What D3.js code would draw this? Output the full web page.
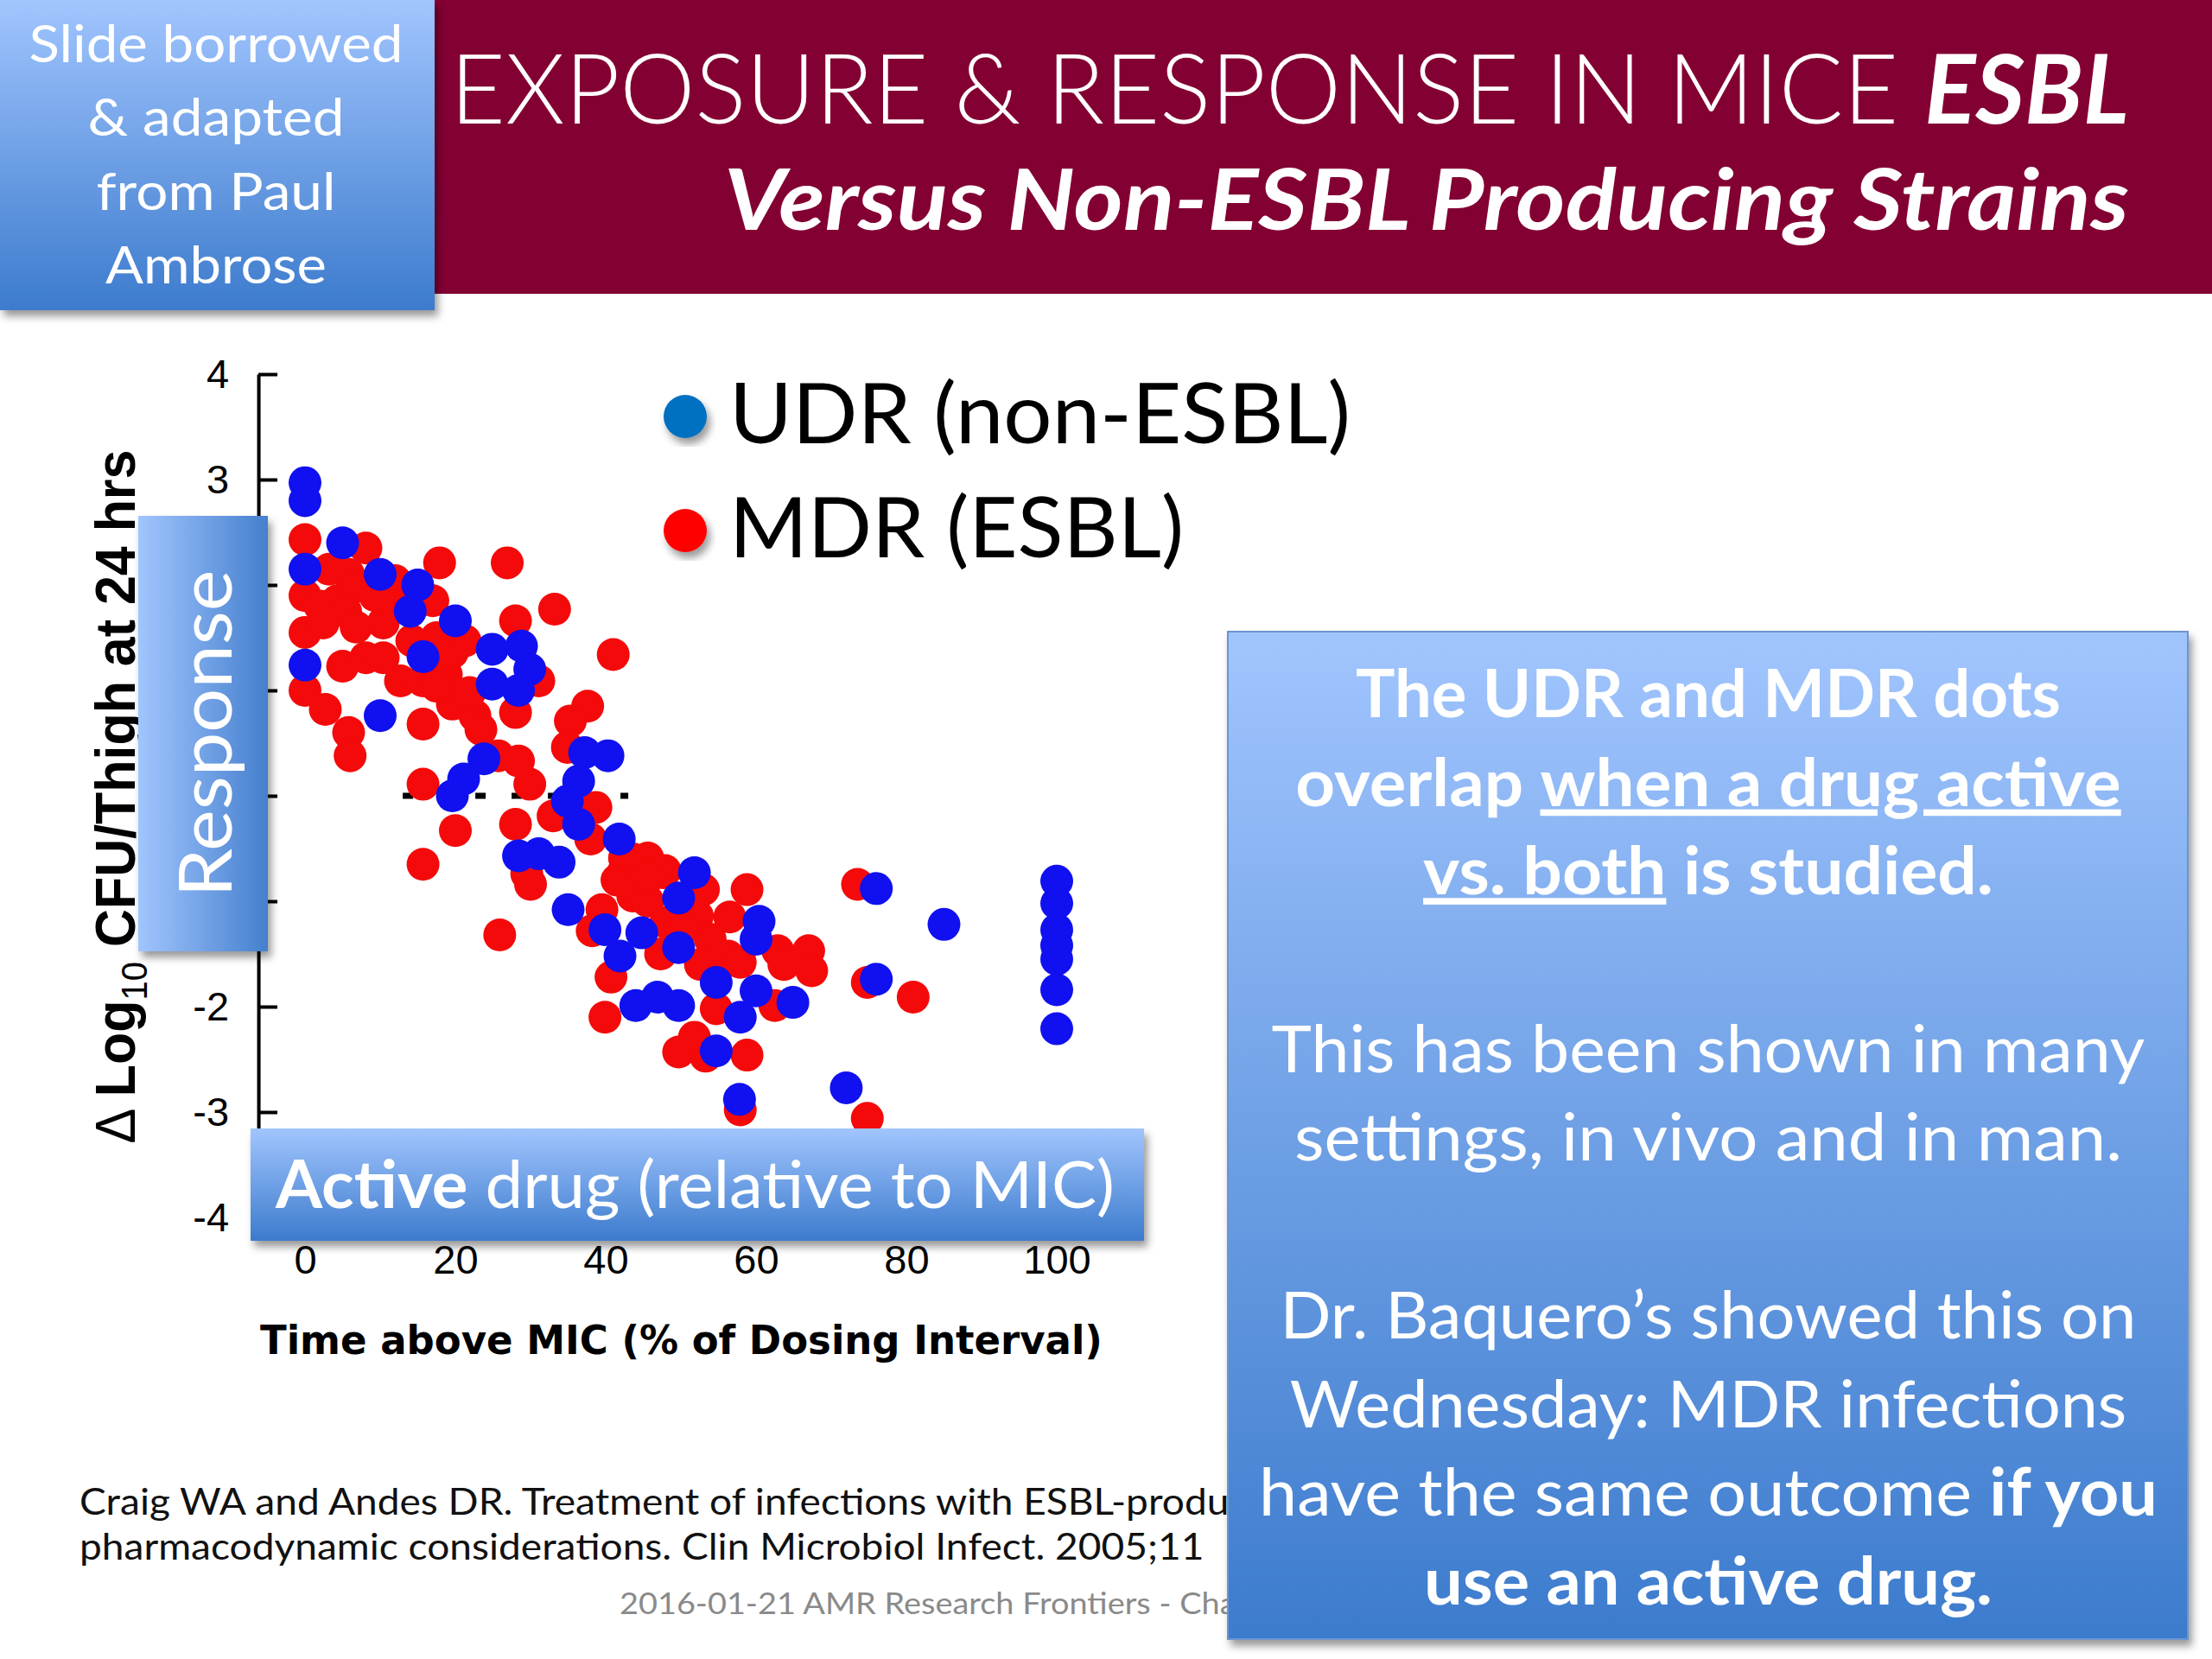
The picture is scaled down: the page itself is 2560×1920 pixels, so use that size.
<!DOCTYPE html>
<html>
<head>
<meta charset="utf-8">
<script src="https://cdn.jsdelivr.net/npm/d3@7"></script>
<style>
  body { margin: 0; background: #fff; }
  svg { display: block; }
</style>
</head>
<body>
<div id="slide"></div>
<script>
// ---- values ----
// [time above MIC %, change in log10 CFU/thigh at 24 h]
const udrPoints = [
  [0, 2.97], [0, 2.8], [5, 2.4], [0, 2.15], [10, 2.1], [15, 2.0], [14, 1.75], [20, 1.66],
  [0, 1.24], [15.7, 1.32], [24.9, 1.39], [28.8, 1.42], [29.9, 1.2], [24.9, 1.06], [28.4, 1.0],
  [10, 0.76], [23.8, 0.35], [21.1, 0.16], [19.6, 0.0], [37.2, 0.41], [40.3, 0.38], [36.4, 0.14],
  [34.9, -0.05], [36.4, -0.27], [41.8, -0.41], [28.4, -0.57], [31.1, -0.55], [33.8, -0.63],
  [35, -1.08], [39.9, -1.27], [41.9, -1.52], [44.8, -1.3], [49.7, -1.44], [51.8, -0.73],
  [49.7, -0.97], [60.4, -1.19], [60, -1.36], [54.7, -1.77], [60, -1.85], [57.9, -2.1],
  [64.9, -1.96], [44, -1.99], [46.9, -1.91], [49.7, -1.99], [54.7, -2.42], [57.8, -2.88],
  [72, -2.77], [76, -0.88], [76, -1.74], [85, -1.22],
  [100, -0.81], [100, -1.02], [100, -1.27], [100, -1.42], [100, -1.55], [100, -1.84], [100, -2.21]
];
const mdrPoints = [
  [0, 2.43], [0, 1.9], [0, 1.55], [2, 1.8], [4.3, 1.85], [5.8, 2.1], [8.1, 2.35], [7.3, 1.99],
  [5.4, 1.75], [2.4, 1.64], [0, 1.0], [2.7, 0.82], [5.8, 0.6], [6, 0.38], [5, 1.23], [8.1, 1.31],
  [10.4, 1.31], [10.4, 1.64], [12.7, 1.85], [17.9, 2.21], [26.9, 2.21], [28, 1.66], [33.2, 1.77],
  [41, 1.34], [15.7, 0.68], [12.7, 1.09], [15.7, 1.09], [18.8, 1.15], [19.6, 0.87], [22.6, 0.76],
  [23.4, 0.63], [28, 0.79], [31.1, 1.09], [37.6, 0.85], [35.3, 0.71], [34.9, 0.46], [15.7, 0.11],
  [25.7, 0.38], [28.4, 0.33], [29.9, 0.11], [20, -0.33], [28, -0.27], [33, -0.19], [38.7, -0.11],
  [15.7, -0.65], [38, -0.41], [43.7, -0.6], [47.9, -0.71], [29.5, -0.74], [17.5, 1.5], [19.6, 1.36],
  [21.3, 1.47], [14.2, 1.47], [17.5, 1.04], [21.9, 0.98], [3.2, 2.15], [6.8, 1.6], [9.3, 1.9],
  [12, 2.04], [17, 1.85],
  [30, -0.84], [25.9, -1.32], [40.7, -1.72], [39.9, -2.1], [42.3, -0.73], [43.6, -0.95],
  [45.6, -1.0], [47.7, -0.73], [39.5, -1.08], [38.2, -1.28], [47.3, -1.5], [53, -0.89],
  [52.2, -1.14], [53.9, -1.36], [52.6, -1.6], [56.3, -1.52], [58.8, -0.89], [57.9, -1.58],
  [62.9, -1.47], [67, -1.47], [67.4, -1.66], [54.7, -2.02], [62.5, -1.99], [49.7, -2.43],
  [51.8, -2.29], [58.8, -2.46], [57.9, -2.98], [74.8, -3.06], [73.5, -0.84], [74.8, -1.77],
  [80.9, -1.91], [45.6, -0.59], [42.5, -0.59], [41.5, -0.8], [45.6, -0.78], [48, -1.2],
  [50.5, -1.25], [56.5, -1.15], [63.7, -1.6], [53.3, -2.47]
];
const xTicks = [0, 20, 40, 60, 80, 100];
const yTicks = [4, 3, 2, 1, 0, -1, -2, -3, -4];
const stasisSpan = [13, 43]; // dotted "no change" line at y = 0, mostly hidden by dots
const legendItems = [
  { label: "UDR (non-ESBL)", color: "#0070C0" },
  { label: "MDR (ESBL)", color: "#FF0000" }
];
const cornerNote = ["Slide borrowed", "& adapted", "from Paul", "Ambrose"];
const titleLine1 = [{ text: "EXPOSURE & RESPONSE IN MICE ", bold: false }, { text: "ESBL", bold: true }];
const titleLine2 = "Versus Non-ESBL Producing Strains";
const xTitle = "Time above MIC (% of Dosing Interval)";
const noteLines = [
  [{ text: "The UDR and MDR dots", bold: true }],
  [{ text: "overlap ", bold: true }, { text: "when a drug active", bold: true, underline: true }],
  [{ text: "vs. both", bold: true, underline: true }, { text: " is studied.", bold: true }],
  [],
  [{ text: "This has been shown in many" }],
  [{ text: "settings, in vivo and in man." }],
  [],
  [{ text: "Dr. Baquero\u2019s showed this on" }],
  [{ text: "Wednesday: MDR infections" }],
  [{ text: "have the same outcome " }, { text: "if you", bold: true }],
  [{ text: "use an active drug.", bold: true }]
];
// only the part left of the note box is visible in the slide
const citation = [
  "Craig WA and Andes DR. Treatment of infections with ESBL-produ",
  "pharmacodynamic considerations. Clin Microbiol Infect. 2005;11"
];
const footer = "2016-01-21 AMR Research Frontiers - Cha";

// ---- layout ----
const W = 2560, H = 1920;
const sans = "Lato, 'Open Sans', sans-serif";
const arial = "'Liberation Sans', Arial, sans-serif";
const noteLeft = 1421;

const svg = d3.select("#slide").append("svg").attr("width", W).attr("height", H);

const defs = svg.append("defs");
const gv = defs.append("linearGradient").attr("id", "gradV").attr("x1", 0).attr("y1", 0).attr("x2", 0).attr("y2", 1);
gv.append("stop").attr("offset", "0%").attr("stop-color", "#A1C5FE");
gv.append("stop").attr("offset", "100%").attr("stop-color", "#3C7BCD");
const gh = defs.append("linearGradient").attr("id", "gradH").attr("x1", 0).attr("y1", 0).attr("x2", 1).attr("y2", 0);
gh.append("stop").attr("offset", "0%").attr("stop-color", "#A1C5FE");
gh.append("stop").attr("offset", "100%").attr("stop-color", "#4580CE");
const sh = defs.append("filter").attr("id", "shadow")
  .attr("x", "-10%").attr("y", "-10%").attr("width", "130%").attr("height", "130%");
sh.append("feDropShadow").attr("dx", 4).attr("dy", 7).attr("stdDeviation", 5)
  .attr("flood-color", "#000").attr("flood-opacity", 0.4);
defs.append("clipPath").attr("id", "leftOfNote")
  .append("rect").attr("x", 0).attr("y", 1600).attr("width", noteLeft).attr("height", 320);

// squeeze/stretch a text horizontally so it covers the measured width
function fitX(sel, target, ax) {
  const w = sel.node().getBBox().width;
  if (!w) return;
  const k = target / w;
  sel.attr("transform", `translate(${ax},0) scale(${k},1) translate(${-ax},0)`);
}

svg.append("rect").attr("width", W).attr("height", H).attr("fill", "#fff");

// title banner
svg.append("rect").attr("x", 503).attr("y", 0).attr("width", W - 503).attr("height", 340).attr("fill", "#830033");

const t1 = svg.append("text").attr("x", 2464).attr("y", 143).attr("text-anchor", "end")
  .attr("fill", "#fff").attr("font-family", sans).attr("font-size", 112);
t1.selectAll("tspan").data(titleLine1).join("tspan")
  .attr("font-weight", d => d.bold ? 700 : 300)
  .attr("font-style", d => d.bold ? "italic" : "normal")
  .text(d => d.text);
fitX(t1, 1943, 2464);

const t2 = svg.append("text").attr("x", 2464).attr("y", 266).attr("text-anchor", "end")
  .attr("fill", "#fff").attr("font-family", sans).attr("font-size", 97)
  .attr("font-weight", 700).attr("font-style", "italic").text(titleLine2);
fitX(t2, 1626, 2464);

// corner note
svg.append("rect").attr("x", 0).attr("y", 0).attr("width", 503).attr("height", 359)
  .attr("fill", "url(#gradV)").attr("filter", "url(#shadow)");
const cornerWidths = [433, 297, 277, 256];
cornerNote.forEach((line, i) => {
  const t = svg.append("text").attr("x", 250).attr("y", 72 + i * 85.3).attr("text-anchor", "middle")
    .attr("fill", "#fff").attr("font-family", sans).attr("font-size", 60).text(line);
  fitX(t, cornerWidths[i], 250);
});

// legend
const legend = svg.append("g");
legendItems.forEach((d, i) => {
  const cy = 482 + i * 132;
  legend.append("circle").attr("cx", 793).attr("cy", cy).attr("r", 25)
    .attr("fill", d.color).attr("filter", "url(#shadow)");
  const t = legend.append("text").attr("x", 844).attr("y", cy + 31)
    .attr("font-family", sans).attr("font-size", 97).attr("fill", "#000").text(d.label);
  fitX(t, i === 0 ? 719 : 526, 844);
});

// scales
const x = d3.scaleLinear().domain([0, 100]).range([353, 1223]);
const y = d3.scaleLinear().domain([-4, 4]).range([1409, 433]);

// axes
const yAxis = svg.append("g").attr("transform", `translate(${x(-6.2)},0)`)
  .call(d3.axisLeft(y).tickValues(yTicks).tickSizeInner(-22).tickSizeOuter(0)
    .tickPadding(34).tickFormat(d => String(d)));
const xAxis = svg.append("g").attr("transform", `translate(0,${y(-4)})`)
  .call(d3.axisBottom(x).tickValues(xTicks).tickSizeInner(-22).tickSizeOuter(0)
    .tickPadding(32).tickFormat(d => String(d)));
[yAxis, xAxis].forEach(g => {
  g.attr("font-family", arial).attr("font-size", 47);
  g.selectAll("path, line").attr("stroke", "#000").attr("stroke-width", 4);
  g.selectAll("text").attr("fill", "#000");
});

// stasis line
svg.append("line")
  .attr("x1", x(stasisSpan[0])).attr("x2", x(stasisSpan[1]))
  .attr("y1", y(0)).attr("y2", y(0))
  .attr("stroke", "#000").attr("stroke-width", 7).attr("stroke-dasharray", "12 30");

// points: MDR under UDR
svg.append("g").selectAll("circle").data(mdrPoints).join("circle")
  .attr("cx", d => x(d[0])).attr("cy", d => y(d[1])).attr("r", 19).attr("fill", "#F40A0A");
svg.append("g").selectAll("circle").data(udrPoints).join("circle")
  .attr("cx", d => x(d[0])).attr("cy", d => y(d[1])).attr("r", 19).attr("fill", "#1010F0");

// y axis title
const yt = svg.append("g").attr("transform", "translate(156,922) rotate(-90)")
  .append("text").attr("text-anchor", "middle").attr("font-family", arial)
  .attr("font-size", 64).attr("fill", "#000");
yt.append("tspan").attr("font-weight", 400).text("\u0394 ");
yt.append("tspan").attr("font-weight", 700).text("Log");
yt.append("tspan").attr("font-weight", 400).attr("font-size", 42).attr("dy", 14).text("10");
yt.append("tspan").attr("font-weight", 700).attr("dy", -14).text(" CFU/Thigh at 24 hrs");
fitX(yt, 803, 0);

// x axis title
const xt = svg.append("text").attr("x", 301).attr("y", 1567)
  .attr("font-family", "'DejaVu Sans', sans-serif").attr("font-weight", 700)
  .attr("font-size", 46).attr("fill", "#000").text(xTitle);
fitX(xt, 975, 301);

// "Response" tag
svg.append("rect").attr("x", 160).attr("y", 597).attr("width", 150).attr("height", 504)
  .attr("fill", "url(#gradH)").attr("filter", "url(#shadow)");
const rt = svg.append("g").attr("transform", "translate(268,849) rotate(-90)")
  .append("text").attr("text-anchor", "middle").attr("font-family", sans)
  .attr("font-size", 86).attr("fill", "#fff").text("Response");
fitX(rt, 379, 0);

// "Active drug" tag
svg.append("rect").attr("x", 290).attr("y", 1306).attr("width", 1034).attr("height", 130)
  .attr("fill", "url(#gradV)").attr("filter", "url(#shadow)");
const at = svg.append("text").attr("x", 319).attr("y", 1398)
  .attr("font-family", sans).attr("font-size", 76).attr("fill", "#fff");
at.append("tspan").attr("font-weight", 700).text("Active");
at.append("tspan").attr("font-weight", 400).text(" drug (relative to MIC)");
fitX(at, 972, 319);

// citation and footer, cut off by the note box
const lower = svg.append("g").attr("clip-path", "url(#leftOfNote)");
const cit = citation.map((line, i) => lower.append("text").attr("x", 92).attr("y", 1753 + i * 52)
  .attr("font-family", sans).attr("font-size", 42).attr("fill", "#111").text(line));
const kc = 1305 / cit[0].node().getSubStringLength(0, citation[0].length - 1);
cit.forEach(t => t.attr("transform", `translate(92,0) scale(${kc},1) translate(-92,0)`));

const ft = lower.append("text").attr("x", 717).attr("y", 1868)
  .attr("font-family", sans).attr("font-size", 34).attr("fill", "#8A8A8A").text(footer);
const kf = 615 / ft.node().getSubStringLength(0, "2016-01-21 AMR Research Frontiers".length);
ft.attr("transform", `translate(717,0) scale(${kf},1) translate(-717,0)`);

// note box
svg.append("rect").attr("x", noteLeft).attr("y", 731).attr("width", 1111).attr("height", 1166)
  .attr("fill", "url(#gradV)").attr("stroke", "#6C95CF").attr("stroke-width", 2)
  .attr("filter", "url(#shadow)");
const noteWidths = [816, 954, 660, 0, 1011, 958, 0, 991, 969, 1040, 658];
noteLines.forEach((segs, i) => {
  if (!segs.length) return;
  const t = svg.append("text").attr("x", 1977).attr("y", 830 + i * 102.7)
    .attr("text-anchor", "middle").attr("font-family", sans).attr("font-size", 76).attr("fill", "#fff");
  t.selectAll("tspan").data(segs).join("tspan")
    .attr("font-weight", d => d.bold ? 700 : 400)
    .style("text-decoration", d => d.underline ? "underline" : "none")
    .text(d => d.text);
  fitX(t, noteWidths[i], 1977);
});
</script>
</body>
</html>
